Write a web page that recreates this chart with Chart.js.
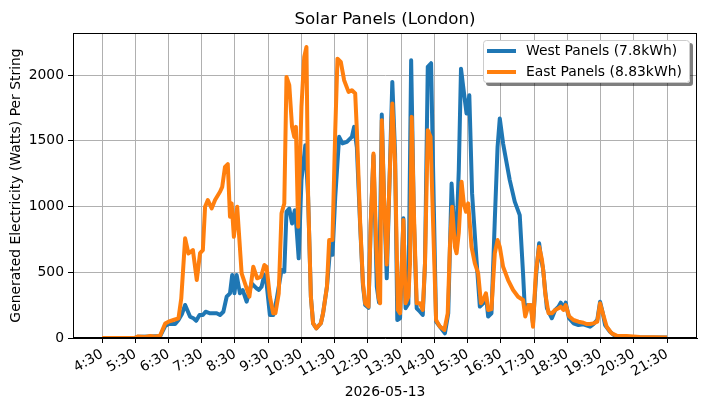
<!DOCTYPE html>
<html>
<head>
<meta charset="utf-8">
<title>Solar Panels (London)</title>
<script src="https://cdn.jsdelivr.net/npm/chart.js@4.4.1/dist/chart.umd.min.js"></script>
<style>
  html, body { margin: 0; padding: 0; background: #fff; }
  #wrap { width: 704px; height: 409px; }
</style>
</head>
<body>
<div id="wrap"><canvas id="solarChart" width="704" height="409"></canvas></div>
<script>
// readings taken from the plot, times are local (H:MM)
var westTimes = [
    "4:30", "5:30", "5:35", "5:57", "6:15", "6:24", "6:30", "6:42", "6:48", "6:54",
    "7:00", "7:09", "7:15", "7:20", "7:26", "7:32", "7:37", "7:45", "7:57", "8:03",
    "8:09", "8:15", "8:21", "8:25", "8:29", "8:33", "8:39", "8:44", "8:51", "9:00",
    "9:09", "9:13", "9:18", "9:23", "9:27", "9:33", "9:39", "9:45", "9:54", "9:59",
    "10:03", "10:08", "10:13", "10:18", "10:21", "10:25", "10:30", "10:37", "10:42", "10:47",
    "10:51", "10:57", "11:05", "11:09", "11:16", "11:22", "11:26", "11:31", "11:38", "11:44",
    "11:52", "12:01", "12:05", "12:10", "12:16", "12:21", "12:25", "12:31", "12:35", "12:40",
    "12:46", "12:50", "12:55", "12:59", "13:04", "13:09", "13:14", "13:19", "13:23", "13:28",
    "13:34", "13:38", "13:43", "13:48", "13:53", "13:58", "14:04", "14:09", "14:13", "14:18",
    "14:24", "14:28", "14:33", "14:40", "14:49", "14:55", "15:01", "15:05", "15:09", "15:14",
    "15:18", "15:22", "15:28", "15:33", "15:38", "15:46", "15:52", "15:58", "16:03", "16:07",
    "16:13", "16:19", "16:24", "16:28", "16:34", "16:46", "16:55", "17:04", "17:10", "17:13",
    "17:19", "17:24", "17:28", "17:34", "17:39", "17:43", "17:46", "17:53", "18:02", "18:08",
    "18:14", "18:18", "18:23", "18:27", "18:33", "18:41", "18:50", "18:59", "19:11", "19:17",
    "19:24", "19:29", "19:34", "19:38", "19:47", "19:56", "20:11", "20:35", "21:30"
];
var westWatts = [
    0, 2, 10, 12, 15, 90, 106, 106, 137, 180,
    251, 162, 150, 131, 175, 175, 200, 188, 188, 175,
    200, 314, 340, 479, 340, 479, 340, 365, 276, 416,
    378, 365, 390, 479, 416, 175, 175, 289, 517, 504,
    960, 985, 871, 972, 846, 606, 1201, 1467, 1074, 314,
    112, 74, 112, 188, 390, 694, 633, 1074, 1530, 1480,
    1492, 1530, 1606, 1450, 850, 400, 251, 230, 860, 1390,
    390, 270, 1700, 1074, 454, 1201, 1948, 1400, 137, 150,
    910, 226, 260, 2113, 900, 226, 200, 175, 568, 2062,
    2090, 1200, 125, 86, 36, 188, 1175, 897, 669, 1277,
    2049, 1910, 1707, 1847, 1100, 593, 239, 264, 327, 163,
    188, 897, 1454, 1670, 1479, 1201, 1037, 935, 491, 239,
    251, 250, 111, 500, 720, 593, 530, 228, 150, 213,
    238, 269, 226, 269, 150, 112, 99, 104, 86, 106,
    137, 276, 188, 99, 48, 15, 10, 5, 3
];

var eastTimes = [
    "4:30", "5:30", "5:35", "5:48", "5:57", "6:07", "6:15", "6:24", "6:30", "6:39",
    "6:48", "6:53", "7:00", "7:06", "7:14", "7:21", "7:27", "7:32", "7:36", "7:41",
    "7:48", "7:54", "8:03", "8:07", "8:12", "8:17", "8:21", "8:24", "8:28", "8:34",
    "8:42", "8:50", "8:56", "9:03", "9:10", "9:17", "9:23", "9:27", "9:33", "9:39",
    "9:43", "9:49", "9:54", "9:59", "10:03", "10:08", "10:13", "10:17", "10:20", "10:24",
    "10:30", "10:35", "10:39", "10:42", "10:47", "10:51", "10:57", "11:05", "11:09", "11:16",
    "11:20", "11:26", "11:31", "11:35", "11:41", "11:47", "11:55", "12:01", "12:07", "12:10",
    "12:16", "12:21", "12:25", "12:31", "12:35", "12:40", "12:45", "12:49", "12:52", "12:55",
    "12:59", "13:04", "13:09", "13:14", "13:19", "13:24", "13:28", "13:34", "13:38", "13:43",
    "13:46", "13:49", "13:53", "13:58", "14:04", "14:09", "14:13", "14:18", "14:23", "14:28",
    "14:33", "14:40", "14:48", "14:54", "14:58", "15:02", "15:07", "15:10", "15:14", "15:19",
    "15:23", "15:27", "15:31", "15:37", "15:43", "15:49", "15:54", "15:58", "16:03", "16:07",
    "16:13", "16:19", "16:24", "16:28", "16:34", "16:43", "16:52", "17:01", "17:10", "17:14",
    "17:20", "17:24", "17:28", "17:33", "17:39", "17:44", "17:47", "17:50", "17:53", "17:56",
    "18:02", "18:08", "18:14", "18:18", "18:23", "18:27", "18:33", "18:41", "18:50", "18:59",
    "19:05", "19:11", "19:17", "19:24", "19:29", "19:34", "19:41", "19:50", "19:59", "20:17",
    "20:41", "21:30"
];
var eastWatts = [
    0, 2, 12, 8, 15, 10, 20, 110, 124, 137,
    150, 300, 758, 643, 669, 441, 646, 669, 998, 1049,
    986, 1049, 1112, 1150, 1302, 1322, 922, 1024, 770, 998,
    492, 390, 314, 542, 454, 466, 555, 542, 314, 188,
    188, 340, 948, 1023, 1986, 1923, 1606, 1530, 1606, 846,
    1758, 2138, 2214, 1074, 314, 112, 74, 112, 188, 390,
    745, 745, 1581, 2125, 2100, 1961, 1872, 1885, 1860, 1581,
    872, 416, 264, 238, 872, 1403, 694, 314, 264, 1657,
    1074, 560, 1201, 1784, 1328, 213, 188, 897, 264, 314,
    568, 1682, 948, 264, 264, 213, 568, 1581, 1530, 821,
    137, 86, 61, 188, 700, 998, 694, 644, 800, 1188,
    1024, 960, 1024, 694, 567, 491, 264, 289, 340, 213,
    220, 643, 745, 694, 542, 441, 365, 314, 289, 163,
    251, 251, 86, 491, 694, 600, 492, 340, 264, 188,
    188, 213, 226, 238, 213, 250, 166, 137, 124, 116,
    106, 106, 111, 124, 264, 188, 86, 35, 18, 15,
    8, 3
];

var chartTitle = 'Solar Panels (London)';
var seriesLabels = ["West Panels (7.8kWh)", "East Panels (8.83kWh)"];
var xTickTimes = ["4:30", "5:30", "6:30", "7:30", "8:30", "9:30", "10:30", "11:30", "12:30",
    "13:30", "14:30", "15:30", "16:30", "17:30", "18:30", "19:30", "20:30", "21:30"];
var yTickValues = [0, 500, 1000, 1500, 2000];

var color = {
    blue: '#1f77b4',
    orange: '#ff7f0e'
};

function toMinutes(s) {
    var p = s.split(':');
    return parseInt(p[0], 10) * 60 + parseInt(p[1], 10);
}
function fmtMinutes(v) {
    var h = Math.floor(v / 60), m = Math.round(v - h * 60);
    return h + ':' + (m < 10 ? '0' : '') + m;
}
function toPoints(times, values) {
    return times.map(function (t, i) { return {x: toMinutes(t), y: values[i]}; });
}

var FONT = "'DejaVu Sans', sans-serif";
Chart.defaults.font.family = FONT;
Chart.defaults.font.size = 13.9;
Chart.defaults.color = '#000';

// black box round the axes, like the spines, and the title centred over them
var frame = {
    id: 'frame',
    afterDatasetsDraw: function (chart) {
        var a = chart.chartArea, c = chart.ctx;
        c.save();
        c.strokeStyle = '#000';
        c.lineWidth = 1;
        c.strokeRect(Math.round(a.left) + 0.5, Math.round(a.top) + 0.5,
            Math.round(a.right - a.left) - 1, Math.round(a.bottom - a.top) - 1);
        c.font = '16.7px ' + FONT;
        c.fillStyle = '#000';
        c.textAlign = 'center';
        c.textBaseline = 'alphabetic';
        c.fillText(chartTitle, (a.left + a.right) / 2, a.top - 9);
        c.restore();
    }
};

// legend box drawn inside the plot, top right, with a drop shadow
var boxLegend = {
    id: 'boxLegend',
    afterDraw: function (chart) {
        var c = chart.ctx, a = chart.chartArea;
        var w = 207, h = 43;
        var x = a.right - 7 - w, y = a.top + 7;
        c.save();
        c.fillStyle = 'rgba(0,0,0,0.5)';
        roundRect(c, x + 3, y + 3, w, h, 3);
        c.fill();
        c.fillStyle = '#fff';
        roundRect(c, x, y, w, h, 3);
        c.fill();
        c.strokeStyle = '#cccccc';
        c.lineWidth = 1;
        roundRect(c, x + 0.5, y + 0.5, w - 1, h - 1, 3);
        c.stroke();
        c.font = '13.9px ' + FONT;
        c.textBaseline = 'middle';
        c.fillStyle = '#000';
        chart.data.datasets.forEach(function (ds, i) {
            var ly = y + 11 + i * 21;
            c.strokeStyle = ds.borderColor;
            c.lineWidth = 4;
            c.beginPath();
            c.moveTo(x + 4, ly);
            c.lineTo(x + 33, ly);
            c.stroke();
            c.fillText(ds.label, x + 43, ly);
        });
        c.restore();
    }
};
function roundRect(c, x, y, w, h, r) {
    c.beginPath();
    c.moveTo(x + r, y);
    c.lineTo(x + w - r, y);
    c.quadraticCurveTo(x + w, y, x + w, y + r);
    c.lineTo(x + w, y + h - r);
    c.quadraticCurveTo(x + w, y + h, x + w - r, y + h);
    c.lineTo(x + r, y + h);
    c.quadraticCurveTo(x, y + h, x, y + h - r);
    c.lineTo(x, y + r);
    c.quadraticCurveTo(x, y, x + r, y);
    c.closePath();
}

var ctx = document.getElementById("solarChart");
window.solarChart = new Chart(ctx, {
    type: 'line',
    data: {
        datasets: [
            {
                label: seriesLabels[0],
                data: toPoints(westTimes, westWatts),
                borderColor: color.blue,
                backgroundColor: color.blue,
                borderWidth: 4,
                pointRadius: 0,
                borderJoinStyle: 'round',
                tension: 0,
                order: 1
            },
            {
                label: seriesLabels[1],
                data: toPoints(eastTimes, eastWatts),
                borderColor: color.orange,
                backgroundColor: color.orange,
                borderWidth: 4,
                pointRadius: 0,
                borderJoinStyle: 'round',
                tension: 0,
                order: 0
            }
        ]
    },
    options: {
        responsive: false,
        animation: false,
        devicePixelRatio: 1,
        layout: {padding: {left: 0, right: 7, top: 33, bottom: 4}},
        plugins: {
            legend: {display: false},
            tooltip: {enabled: false},
            title: {display: false}
        },
        scales: {
            x: {
                type: 'linear',
                min: 217.6,
                max: 1344,
                afterBuildTicks: function (scale) {
                    scale.ticks = xTickTimes.map(function (t) { return {value: toMinutes(t)}; });
                },
                afterFit: function (scale) { scale.height = 67; },
                ticks: {
                    minRotation: 30,
                    maxRotation: 30,
                    autoSkip: false,
                    padding: 3,
                    callback: function (v) { return fmtMinutes(v); }
                },
                grid: {color: '#b0b0b0', lineWidth: 1, tickColor: '#000', tickLength: 5},
                border: {display: true, color: '#000'},
                title: {display: true, text: '2026-05-13', padding: {top: 4, bottom: 4}}
            },
            y: {
                min: 0,
                max: 2320,
                afterBuildTicks: function (scale) {
                    scale.ticks = yTickValues.map(function (v) { return {value: v}; });
                },
                afterFit: function (scale) { scale.width = 73; },
                ticks: {
                    padding: 4,
                    callback: function (v) { return String(v); }
                },
                grid: {color: '#b0b0b0', lineWidth: 1, tickColor: '#000', tickLength: 5},
                border: {display: true, color: '#000'},
                title: {display: true, text: 'Generated Electricity (Watts) Per String', padding: {top: 8, bottom: 4}}
            }
        }
    },
    plugins: [frame, boxLegend]
});
</script>
</body>
</html>
